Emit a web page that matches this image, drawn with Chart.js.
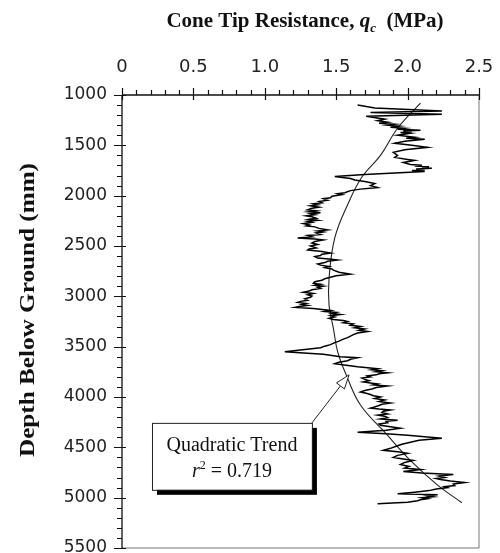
<!DOCTYPE html>
<html>
<head>
<meta charset="utf-8">
<script src="https://cdn.jsdelivr.net/npm/chart.js@4.4.1/dist/chart.umd.min.js"></script>
<style>
  html, body { margin: 0; padding: 0; background: #fff; }
</style>
</head>
<body>
<canvas id="chart" width="500" height="553"></canvas>
<script>
// measured cone profile (depth in mm, qc in MPa)
const depth = [
  1100, 1130, 1160, 1175, 1190, 1210, 1240, 1255, 1270, 1280,
  1290, 1300, 1310, 1320, 1330, 1340, 1350, 1358, 1365, 1372,
  1380, 1400, 1420, 1430, 1440, 1460, 1480, 1500, 1520, 1545,
  1570, 1600, 1620, 1640, 1650, 1670, 1690, 1698, 1705, 1712,
  1720, 1728, 1735, 1742, 1750, 1760, 1780, 1790, 1810, 1830,
  1845, 1860, 1880, 1900, 1920, 1935, 1950, 1970, 1980, 1990,
  2005, 2020, 2030, 2045, 2058, 2070, 2080, 2090, 2100, 2115,
  2125, 2140, 2150, 2160, 2170, 2180, 2190, 2200, 2210, 2225,
  2235, 2245, 2255, 2265, 2278, 2290, 2300, 2310, 2325, 2340,
  2350, 2360, 2370, 2385, 2395, 2408, 2420, 2430, 2440, 2455,
  2470, 2485, 2500, 2520, 2530, 2540, 2555, 2570, 2582, 2595,
  2605, 2620, 2630, 2640, 2652, 2665, 2678, 2690, 2703, 2715,
  2728, 2740, 2760, 2780, 2795, 2810, 2825, 2840, 2855, 2870,
  2880, 2890, 2900, 2910, 2922, 2935, 2948, 2960, 2972, 2985,
  2998, 3010, 3025, 3040, 3050, 3060, 3070, 3080, 3090, 3100,
  3110, 3120, 3140, 3150, 3160, 3170, 3180, 3192, 3205, 3218,
  3230, 3240, 3250, 3262, 3275, 3288, 3300, 3312, 3325, 3338,
  3350, 3365, 3380, 3395, 3410, 3425, 3445, 3460, 3480, 3495,
  3510, 3550, 3565, 3575, 3600, 3610, 3625, 3640, 3655, 3670,
  3685, 3700, 3720, 3730, 3740, 3750, 3760, 3770, 3780, 3790,
  3800, 3812, 3825, 3838, 3850, 3860, 3870, 3880, 3890, 3905,
  3920, 3935, 3950, 3962, 3975, 3988, 4000, 4015, 4030, 4045,
  4060, 4072, 4085, 4098, 4110, 4120, 4130, 4142, 4155, 4168,
  4180, 4192, 4205, 4218, 4230, 4242, 4255, 4268, 4280, 4295,
  4310, 4330, 4350, 4365, 4380, 4410, 4430, 4450, 4470, 4490,
  4510, 4530, 4545, 4560, 4580, 4600, 4615, 4630, 4650, 4670,
  4690, 4705, 4720, 4740, 4755, 4770, 4785, 4800, 4810, 4820,
  4835, 4850, 4865, 4880, 4890, 4900, 4915, 4930, 4945, 4960,
  4970, 4980, 4990, 5000, 5010, 5020, 5030, 5045, 5060
]
const qc = [
  1.65, 1.77, 2.24, 1.74, 2.24, 1.71, 1.84, 1.79, 1.86, 1.80,
  1.91, 1.86, 1.94, 1.88, 1.98, 1.93, 2.09, 1.97, 2.03, 1.95,
  2.02, 1.93, 2.05, 1.99, 2.12, 1.98, 1.91, 2.03, 2.14, 1.98,
  1.90, 1.93, 1.91, 2.00, 2.05, 1.97, 2.02, 2.10, 2.05, 2.15,
  2.10, 2.17, 2.06, 2.12, 2.03, 2.12, 1.84, 1.70, 1.49, 1.60,
  1.63, 1.70, 1.77, 1.74, 1.79, 1.67, 1.60, 1.56, 1.51, 1.54,
  1.47, 1.46, 1.41, 1.44, 1.38, 1.40, 1.34, 1.37, 1.32, 1.38,
  1.33, 1.30, 1.36, 1.31, 1.39, 1.32, 1.35, 1.29, 1.33, 1.36,
  1.31, 1.37, 1.30, 1.33, 1.27, 1.31, 1.29, 1.35, 1.38, 1.44,
  1.37, 1.41, 1.36, 1.39, 1.30, 1.33, 1.23, 1.35, 1.41, 1.35,
  1.33, 1.37, 1.32, 1.36, 1.31, 1.30, 1.40, 1.46, 1.40, 1.39,
  1.35, 1.37, 1.45, 1.51, 1.44, 1.42, 1.37, 1.39, 1.45, 1.42,
  1.47, 1.48, 1.52, 1.60, 1.50, 1.46, 1.42, 1.40, 1.35, 1.34,
  1.39, 1.35, 1.41, 1.37, 1.39, 1.33, 1.31, 1.27, 1.34, 1.30,
  1.33, 1.32, 1.28, 1.30, 1.25, 1.23, 1.29, 1.26, 1.30, 1.24,
  1.21, 1.34, 1.46, 1.42, 1.50, 1.47, 1.53, 1.46, 1.49, 1.45,
  1.48, 1.55, 1.58, 1.55, 1.62, 1.60, 1.67, 1.63, 1.70, 1.66,
  1.72, 1.65, 1.62, 1.60, 1.58, 1.55, 1.52, 1.49, 1.46, 1.42,
  1.39, 1.14, 1.30, 1.41, 1.53, 1.65, 1.60, 1.58, 1.52, 1.49,
  1.57, 1.65, 1.79, 1.75, 1.82, 1.78, 1.86, 1.80, 1.78, 1.72,
  1.74, 1.68, 1.70, 1.73, 1.69, 1.74, 1.79, 1.76, 1.86, 1.78,
  1.75, 1.70, 1.67, 1.71, 1.74, 1.76, 1.81, 1.77, 1.84, 1.80,
  1.88, 1.82, 1.80, 1.77, 1.74, 1.80, 1.88, 1.83, 1.82, 1.86,
  1.79, 1.84, 1.86, 1.81, 1.93, 1.85, 1.86, 1.80, 1.81, 1.88,
  1.95, 1.85, 1.65, 1.85, 2.00, 2.24, 2.08, 2.02, 1.96, 1.92,
  1.88, 1.83, 1.93, 2.00, 1.93, 1.90, 1.97, 2.04, 1.98, 1.95,
  2.01, 1.98, 2.09, 1.97, 2.10, 2.32, 2.22, 2.26, 2.20, 2.23,
  2.30, 2.40, 2.32, 2.33, 2.26, 2.28, 2.20, 2.15, 2.05, 1.93,
  2.21, 2.14, 2.18, 2.10, 2.14, 2.09, 2.07, 2.00, 1.79
]

// quadratic trend line as drawn in the figure
const trendDepth = [1080, 1330, 1600, 1815, 2090, 2420, 2820, 3090, 3315, 3550, 3780, 4080, 4350, 4645, 4875, 5050]
const trendQc = [2.09, 1.93, 1.81, 1.68, 1.58, 1.49, 1.45, 1.45, 1.48, 1.51, 1.57, 1.67, 1.84, 2.03, 2.21, 2.38]

const xTicks = [0, 0.5, 1.0, 1.5, 2.0, 2.5]
const xTickLabels = ['0', '0.5', '1.0', '1.5', '2.0', '2.5']
const yTicks = [1000, 1500, 2000, 2500, 3000, 3500, 4000, 4500, 5000, 5500]
const xMinorStep = 0.1
const yMinorStep = 100

const trendLabel = 'Quadratic Trend'
const rSquared = '0.719'

// annotation placement (data units)
const box = { x0: 0.21, x1: 1.33, y0: 4257, y1: 4922 }
const arrowTip = { x: 1.59, y: 3780 }

const serif = '"Liberation Serif", "Times New Roman", serif'

function drawRuns(ctx, runs, x, y, align) {
  let total = 0
  runs.forEach(r => { ctx.font = r.f; r.w = ctx.measureText(r.t).width; total += r.w })
  let cx = align === 'center' ? x - total / 2 : x
  ctx.textAlign = 'left'
  runs.forEach(r => {
    ctx.font = r.f
    ctx.fillText(r.t, cx, y + (r.dy || 0))
    cx += r.w
  })
}

const framePlugin = {
  id: 'frame',
  afterDraw(chart) {
    const ctx = chart.ctx
    const { left, right, top, bottom } = chart.chartArea
    const xs = chart.scales.x
    const ys = chart.scales.y
    ctx.save()

    // right / bottom border
    ctx.strokeStyle = '#777'
    ctx.lineWidth = 1
    ctx.beginPath()
    ctx.moveTo(right, top); ctx.lineTo(right, bottom); ctx.lineTo(left, bottom)
    ctx.stroke()

    // main axes
    ctx.strokeStyle = '#111'
    ctx.lineWidth = 1.3
    ctx.beginPath()
    ctx.moveTo(left, top); ctx.lineTo(right, top)
    ctx.moveTo(left, top); ctx.lineTo(left, bottom)
    ctx.stroke()

    ctx.lineWidth = 1.2
    ctx.beginPath()
    for (let v = 0; v <= 2.5 + 1e-9; v += xMinorStep) {
      const px = Math.round(xs.getPixelForValue(v)) + 0.5
      const major = xTicks.some(t => Math.abs(t - v) < 1e-6)
      ctx.moveTo(px, top - (major ? 7 : 5))
      ctx.lineTo(px, top + (major ? 5 : 0))
    }
    for (let v = 1000; v <= 5500; v += yMinorStep) {
      const py = Math.round(ys.getPixelForValue(v)) + 0.5
      const major = yTicks.includes(v)
      ctx.moveTo(left - (major ? 8 : 5), py)
      ctx.lineTo(left + (major ? 4 : 0), py)
    }
    ctx.stroke()

    // axis titles
    ctx.fillStyle = '#111'
    ctx.textBaseline = 'alphabetic'
    drawRuns(ctx, [
      { t: 'Cone Tip Resistance, ', f: 'bold 21px ' + serif },
      { t: 'q', f: 'italic bold 21px ' + serif },
      { t: 'c', f: 'italic bold 13px ' + serif, dy: 5 },
      { t: '  (MPa)', f: 'bold 21px ' + serif }
    ], 305, 27, 'center')

    const yTitle = 'Depth Below Ground (mm)'
    ctx.font = 'bold 21px ' + serif
    const w = ctx.measureText(yTitle).width
    ctx.save()
    ctx.translate(34, 310)
    ctx.rotate(-Math.PI / 2)
    ctx.scale(294 / w, 1)
    ctx.textAlign = 'center'
    ctx.fillText(yTitle, 0, 0)
    ctx.restore()

    // annotation box with shadow
    const bx0 = xs.getPixelForValue(box.x0), bx1 = xs.getPixelForValue(box.x1)
    const by0 = ys.getPixelForValue(box.y0), by1 = ys.getPixelForValue(box.y1)
    ctx.fillStyle = '#000'
    ctx.fillRect(bx0 + 5, by0 + 5, bx1 - bx0, by1 - by0)
    ctx.fillStyle = '#fff'
    ctx.fillRect(bx0, by0, bx1 - bx0, by1 - by0)
    ctx.strokeStyle = '#222'
    ctx.lineWidth = 1
    ctx.strokeRect(bx0 + 0.5, by0 + 0.5, bx1 - bx0, by1 - by0)

    ctx.fillStyle = '#111'
    const bcx = (bx0 + bx1) / 2
    drawRuns(ctx, [{ t: trendLabel, f: '20px ' + serif }], bcx, by0 + 28, 'center')
    drawRuns(ctx, [
      { t: 'r', f: 'italic 20px ' + serif },
      { t: '2', f: '12px ' + serif, dy: -8 },
      { t: ' = ' + rSquared, f: '20px ' + serif }
    ], bcx, by0 + 54, 'center')

    // arrow to the trend line
    const ax = xs.getPixelForValue(arrowTip.x), ay = ys.getPixelForValue(arrowTip.y)
    const sx = bx1, sy = by0
    const ang = Math.atan2(ay - sy, ax - sx)
    const len = 14, half = 5
    const baseX = ax - len * Math.cos(ang), baseY = ay - len * Math.sin(ang)
    ctx.strokeStyle = '#222'
    ctx.lineWidth = 1
    ctx.beginPath()
    ctx.moveTo(sx, sy); ctx.lineTo(baseX, baseY)
    ctx.stroke()
    ctx.beginPath()
    ctx.moveTo(ax, ay)
    ctx.lineTo(baseX - half * Math.sin(ang), baseY + half * Math.cos(ang))
    ctx.lineTo(baseX + half * Math.sin(ang), baseY - half * Math.cos(ang))
    ctx.closePath()
    ctx.fillStyle = '#fff'
    ctx.fill()
    ctx.stroke()

    ctx.restore()
  }
}

new Chart(document.getElementById('chart'), {
  type: 'scatter',
  data: {
    datasets: [
      {
        label: 'Measured',
        data: depth.map((d, i) => ({ x: qc[i], y: d })),
        showLine: true,
        borderColor: '#000',
        borderWidth: 1.5,
        pointRadius: 0,
        tension: 0
      },
      {
        label: 'Quadratic trend',
        data: trendDepth.map((d, i) => ({ x: trendQc[i], y: d })),
        showLine: true,
        borderColor: '#222',
        borderWidth: 1.1,
        pointRadius: 0,
        tension: 0.4
      }
    ]
  },
  options: {
    responsive: false,
    animation: false,
    layout: { padding: { top: 0, left: 0, right: 21, bottom: 5 } },
    plugins: {
      legend: { display: false },
      tooltip: { enabled: false }
    },
    scales: {
      x: {
        type: 'linear',
        position: 'top',
        min: 0,
        max: 2.5,
        grid: { display: false },
        border: { display: false },
        afterBuildTicks: s => { s.ticks = xTicks.map(v => ({ value: v })) },
        afterFit: s => { s.height = 95; s.paddingLeft = 0; s.paddingRight = 0 },
        ticks: {
          color: '#222',
          padding: 9,
          font: { family: 'DejaVu Sans', size: 18 },
          maxRotation: 0,
          callback: v => xTickLabels[xTicks.indexOf(v)]
        }
      },
      y: {
        type: 'linear',
        reverse: true,
        min: 1000,
        max: 5500,
        grid: { display: false },
        border: { display: false },
        afterBuildTicks: s => { s.ticks = yTicks.map(v => ({ value: v })) },
        afterFit: s => { s.width = 122; s.paddingTop = 0; s.paddingBottom = 0 },
        ticks: {
          color: '#222',
          padding: 7,
          font: { family: 'DejaVu Sans', size: 17 },
          callback: v => String(v)
        }
      }
    }
  },
  plugins: [framePlugin]
})
</script>
</body>
</html>
